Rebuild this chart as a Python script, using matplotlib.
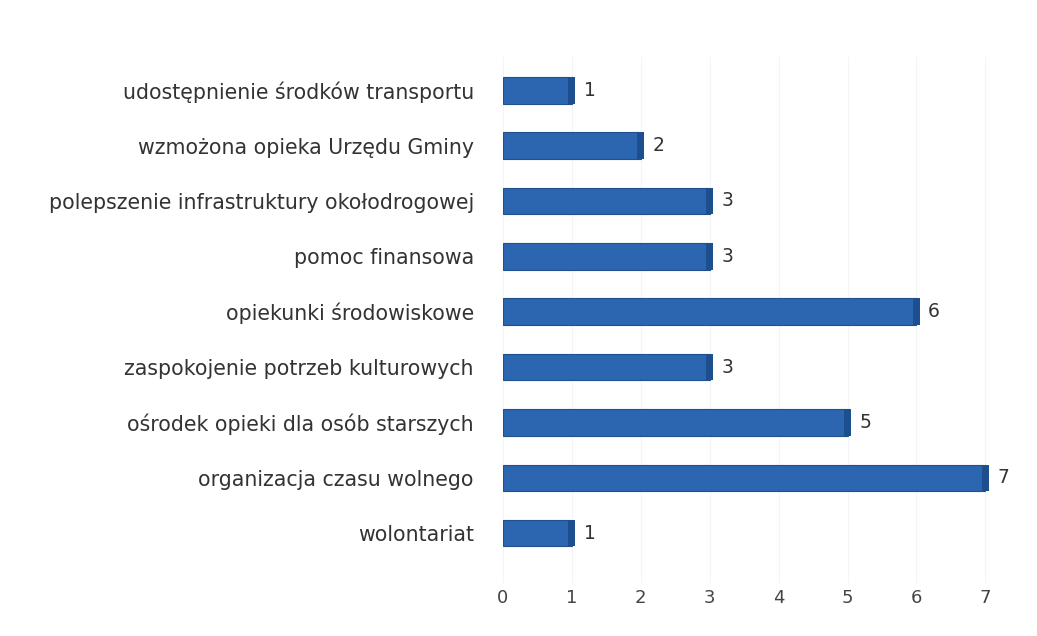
import matplotlib
matplotlib.use("Agg")
import matplotlib.pyplot as plt

categories = [
    "udostępnienie środków transportu",
    "wzmożona opieka Urzędu Gminy",
    "polepszenie infrastruktury okołodrogowej",
    "pomoc finansowa",
    "opiekunki środowiskowe",
    "zaspokojenie potrzeb kulturowych",
    "ośrodek opieki dla osób starszych",
    "organizacja czasu wolnego",
    "wolontariat",
]
values = [1, 2, 3, 3, 6, 3, 5, 7, 1]
xticks = [0, 1, 2, 3, 4, 5, 6, 7]

plt.rcParams['font.family'] = ['DejaVu Sans']

fig = plt.figure(figsize=(10.37, 6.36), dpi=100)
ax = fig.add_axes([503/1037, 1-583/636, 7.45*68.9/1037, (583-57)/636])

n = len(categories)
ypos = list(range(n - 1, -1, -1))
h = 0.48
ax.barh(ypos, values, height=h, color="#2c66b0", edgecolor="#1f4f8c", linewidth=0.8, zorder=3)
# darker end face to mimic the 3D look
depth = 0.1
ax.barh(ypos, [depth] * n, left=[v - depth / 2 for v in values], height=h,
        color="#1d4f8f", linewidth=0, zorder=4)

for y, v in zip(ypos, values):
    ax.text(v + 0.17, y, str(v), va="center", ha="left", fontsize=13.5, color="#333333")

ax.set_xlim(0, 7.45)
ax.set_ylim(-0.9, n - 1 + 0.6)
ax.set_yticks(ypos)
ax.set_yticklabels(categories, fontsize=14.8, color="#333333")
ax.set_xticks(xticks)
ax.set_xticklabels([str(t) for t in xticks], fontsize=13, color="#444444")
ax.tick_params(axis="y", length=0, pad=21)
ax.tick_params(axis="x", length=0, pad=4)
for s in ax.spines.values():
    s.set_visible(False)
ax.xaxis.grid(True, color="#f4f4f4", linewidth=0.8, zorder=0)
ax.set_axisbelow(True)

fig.savefig("out.png", dpi=100)
